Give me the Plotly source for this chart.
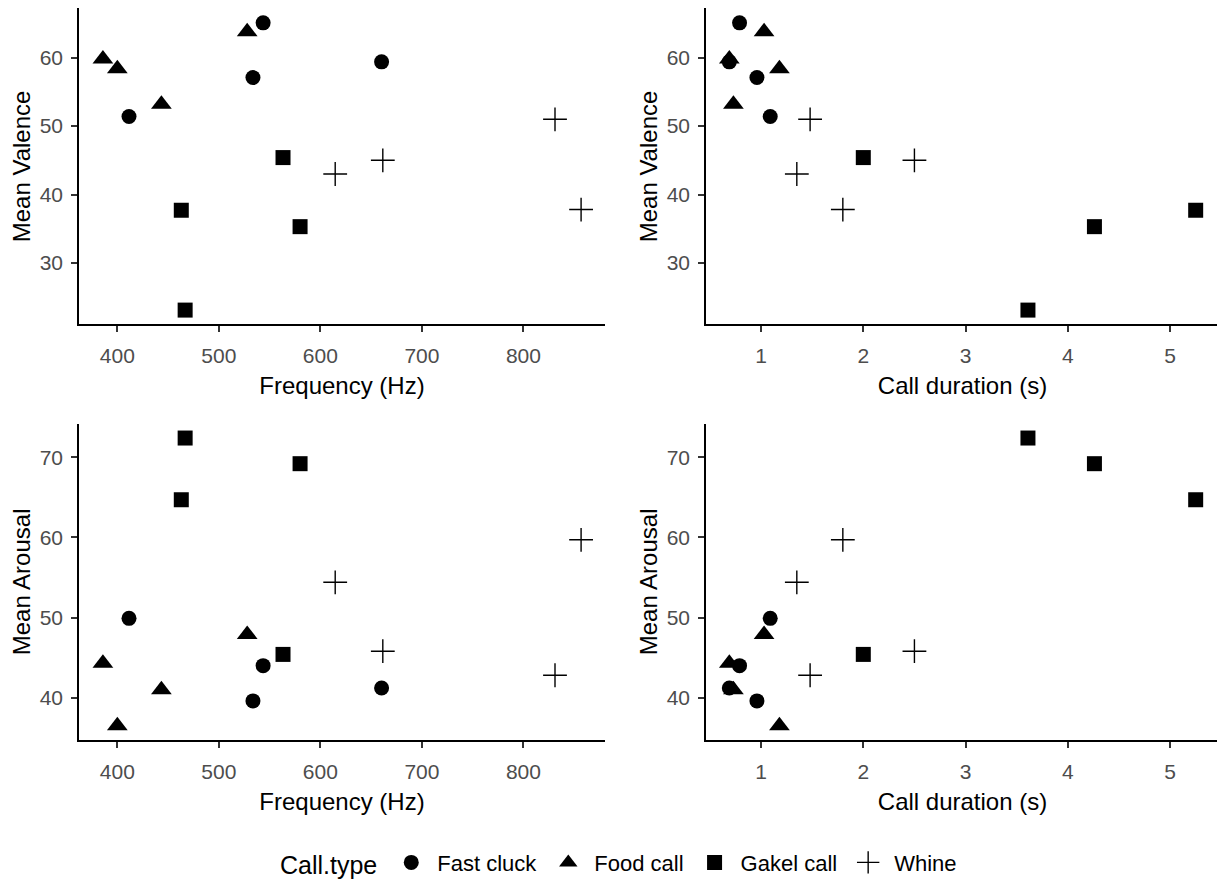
import plotly.graph_objects as go

# ---- data ----
call_types = ["Fast cluck", "Food call", "Gakel call", "Whine"]
frequency_hz = [
    [543.6, 533.6, 660.3, 411.5],
    [527.9, 385.8, 400.0, 443.4],
    [563.2, 463.0, 580.0, 466.8],
    [831.1, 661.5, 614.6, 856.8],
]
duration_s = [
    [0.79, 0.96, 0.69, 1.09],
    [1.03, 0.69, 1.18, 0.73],
    [2.00, 5.25, 4.26, 3.61],
    [1.48, 2.50, 1.35, 1.80],
]
mean_valence = [
    [65.1, 57.1, 59.4, 51.4],
    [63.8, 59.8, 58.4, 53.2],
    [45.4, 37.7, 35.3, 23.1],
    [51.0, 45.0, 43.0, 37.8],
]
mean_arousal = [
    [44.0, 39.6, 41.2, 49.9],
    [47.9, 44.3, 36.5, 41.0],
    [45.4, 64.7, 69.2, 72.4],
    [42.8, 45.8, 54.4, 59.7],
]

freq_ticks = [400, 500, 600, 700, 800]
dur_ticks = [1, 2, 3, 4, 5]
val_ticks = [30, 40, 50, 60]
aro_ticks = [40, 50, 60, 70]

# ---- styling ----
symbols = ["circle", "triangle-up", "square", "cross-thin"]
sizes = [15, 18, 15, 17]
FONT = "Liberation Sans, Arial, sans-serif"


def expanded(groups):
    vals = [v for g in groups for v in g]
    lo, hi = min(vals), max(vals)
    pad = (hi - lo) * 0.05
    return [lo - pad, hi + pad]


fig = go.Figure()

panels = [
    ("x", "y", frequency_hz, mean_valence),
    ("x2", "y2", duration_s, mean_valence),
    ("x3", "y3", frequency_hz, mean_arousal),
    ("x4", "y4", duration_s, mean_arousal),
]

for p, (xa, ya, xs, ys) in enumerate(panels):
    for i, name in enumerate(call_types):
        marker = dict(symbol=symbols[i], size=sizes[i], color="black")
        if symbols[i] == "cross-thin":
            marker["line"] = dict(color="black", width=1.4)
        else:
            marker["line"] = dict(width=0)
        fig.add_trace(go.Scatter(
            x=xs[i], y=ys[i], mode="markers", name=name,
            legendgroup=name, showlegend=(p == 0),
            marker=marker, xaxis=xa, yaxis=ya, cliponaxis=False,
        ))

# page body has an 8px margin: figure is drawn offset by (8, 8)
OFF = 8
W, H = 1225 - OFF, 885 - OFF


def fx(px):
    return (px - OFF) / W


def fy(py):
    return 1 - (py - OFF) / H


xd_left = [fx(79), fx(605)]
xd_right = [fx(706), fx(1219)]
yd_top = [fy(327), fy(8.5)]
yd_bot = [fy(746), fy(427)]

common = dict(
    showgrid=False, zeroline=False, showline=True, linecolor="black",
    linewidth=1.6, ticks="outside", ticklen=6, tickwidth=1.6,
    tickcolor="#333333", tickfont=dict(family=FONT, size=21, color="#4D4D4D"),
    mirror=False,
)


def xaxis(domain, anchor, rng, ticks, title):
    return dict(common, domain=domain, anchor=anchor, range=rng,
                tickvals=ticks, ticktext=[str(t) for t in ticks],
                ticklabelstandoff=6,
                title=dict(text=title, font=dict(family=FONT, size=24, color="black"),
                           standoff=11))


def yaxis(domain, anchor, rng, ticks, title):
    return dict(common, domain=domain, anchor=anchor, range=rng,
                tickvals=ticks, ticktext=[str(t) for t in ticks],
                ticklabelstandoff=4,
                title=dict(text=title, font=dict(family=FONT, size=24, color="black"),
                           standoff=2))


fr = expanded(frequency_hz)
dr = expanded(duration_s)
vr = expanded(mean_valence)
ar = expanded(mean_arousal)

fig.update_layout(
    width=W, height=H,
    margin=dict(l=0, r=0, t=0, b=0),
    paper_bgcolor="white", plot_bgcolor="white",
    font=dict(family=FONT, color="black"),
    xaxis=xaxis(xd_left, "y", fr, freq_ticks, "Frequency (Hz)"),
    yaxis=yaxis(yd_top, "x", vr, val_ticks, "Mean Valence"),
    xaxis2=xaxis(xd_right, "y2", dr, dur_ticks, "Call duration (s)"),
    yaxis2=yaxis(yd_top, "x2", vr, val_ticks, "Mean Valence"),
    xaxis3=xaxis(xd_left, "y3", fr, freq_ticks, "Frequency (Hz)"),
    yaxis3=yaxis(yd_bot, "x3", ar, aro_ticks, "Mean Arousal"),
    xaxis4=xaxis(xd_right, "y4", dr, dur_ticks, "Call duration (s)"),
    yaxis4=yaxis(yd_bot, "x4", ar, aro_ticks, "Mean Arousal"),
    showlegend=True,
    legend=dict(
        orientation="h", x=fx(620), xanchor="center", y=fy(870), yanchor="middle",
        title=dict(text="Call.type", side="left",
                   font=dict(family=FONT, size=25, color="black")),
        font=dict(family=FONT, size=22, color="black"),
        itemwidth=42, bgcolor="rgba(0,0,0,0)",
    ),
)

fig.write_html("out.html")
